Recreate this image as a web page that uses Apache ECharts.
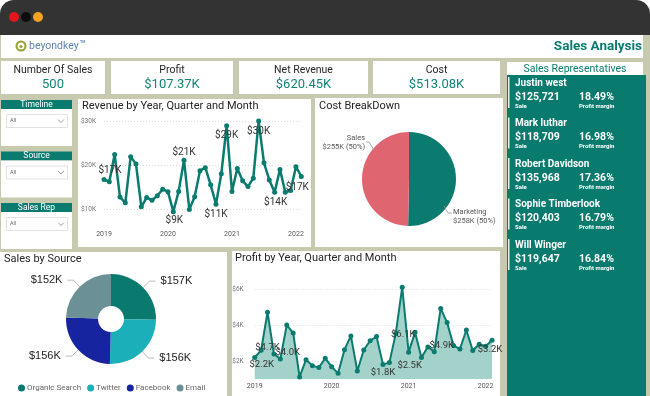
<!DOCTYPE html>
<html>
<head>
<meta charset="utf-8">
<script src="https://cdn.jsdelivr.net/npm/echarts@6/dist/echarts.min.js"></script>
<style>
  html, body { margin: 0; padding: 0; background: #fff; }
  #main { width: 650px; height: 396px; }
</style>
</head>
<body>
<div id="main"></div>
<script>
// ---- data ----
const months = ['2019-01','2019-02','2019-03','2019-04','2019-05','2019-06','2019-07','2019-08','2019-09','2019-10','2019-11','2019-12',
  '2020-01','2020-02','2020-03','2020-04','2020-05','2020-06','2020-07','2020-08','2020-09','2020-10','2020-11','2020-12',
  '2021-01','2021-02','2021-03','2021-04','2021-05','2021-06','2021-07','2021-08','2021-09','2021-10','2021-11','2021-12',
  '2022-01','2022-02'];
// revenue in $K
const revenue = [16.7,16.2,22.4,12.7,11.4,21.9,20.2,10.5,12.6,12.0,13.0,14.5,
  13.9,9.4,14.0,21.1,9.9,12.8,18.7,19.4,15.5,11.1,18.0,28.9,
  14.0,19.2,16.4,15.1,17.0,30.0,20.5,16.6,13.8,19.0,13.8,14.2,
  19.6,17.4];
// profit in $K
const profit = [2.19,2.6,4.72,2.39,2.11,4.01,3.56,1.11,2.07,1.74,1.63,2.15,
  1.68,1.31,2.63,3.40,1.44,2.61,3.13,3.36,1.81,1.91,3.54,6.12,
  2.48,3.6,2.2,2.78,2.52,4.93,4.14,2.86,2.67,3.73,2.58,2.93,
  2.82,3.16];
const revenueTicks = [10, 20, 30];
const profitTicks = [2, 4, 6];
// which points carry a data label, with label offset [dx, dy]
const revenueLabels = [[0, 6, -9], [13, 1, 9], [15, 0, -8], [21, 0, 10], [23, 0, 10], [29, 0, 10], [32, 1, 10], [37, -4, 11]];
const profitLabels = [[0, 7, 7], [2, 0, 35], [5, 1, 28], [20, 0, 8], [23, 1, 47], [24, 1, 13], [29, 1, 37], [37, -2, 9]];

const costNames = ['Marketing', 'Sales'];
const costValues = [258, 255];

const sourceNames = ['Organic Search', 'Twitter', 'Facebook', 'Email'];
const sourceValues = [157, 156, 156, 152];

const kpiTitles = ['Number Of Sales', 'Profit', 'Net Revenue', 'Cost'];
const kpiValues = ['500', '$107.37K', '$620.45K', '$513.08K'];

const repNames = ['Justin west', 'Mark luthar', 'Robert Davidson', 'Sophie Timberlook', 'Will Winger'];
const repSales = ['$125,721', '$118,709', '$135,968', '$120,403', '$119,647'];
const repMargins = ['18.49%', '16.98%', '17.36%', '16.79%', '16.84%'];

const slicers = ['Timeline', 'Source', 'Sales Rep'];

// ---- look ----
const TEAL = '#0b7b6f';
const TEXT = '#252423';
const FONT = 'Roboto, "Noto Sans", sans-serif';

const chart = echarts.init(document.getElementById('main'), null, { renderer: 'canvas' });

function rect(x, y, w, h, fill, extra) {
  return Object.assign({ type: 'rect', shape: { x: x, y: y, width: w, height: h }, style: { fill: fill }, silent: true }, extra || {});
}
function text(x, y, str, size, color, align, weight, font) {
  return {
    type: 'text', x: x, y: y, silent: true,
    style: {
      text: str, fill: color, fontSize: size, fontWeight: weight || 'normal',
      fontFamily: font || FONT, align: align || 'left', verticalAlign: 'middle'
    }
  };
}
function line(points, color) {
  return { type: 'polyline', shape: { points: points }, style: { stroke: color, lineWidth: 0.8, fill: 'none' }, silent: true, z: 10 };
}

const g = [];
// page and browser frame
g.push(rect(0, 0, 650, 396, '#ffffff'));
g.push(rect(0, 30, 650, 366, '#c7caae'));
g.push({ type: 'rect', shape: { x: 0, y: 0, width: 650, height: 35, r: [14, 14, 0, 0] }, style: { fill: '#333333' }, silent: true });
g.push({ type: 'circle', shape: { cx: 14, cy: 17, r: 5 }, style: { fill: '#e3161c' }, silent: true });
g.push({ type: 'circle', shape: { cx: 26, cy: 17, r: 5 }, style: { fill: '#0d0d0d' }, silent: true });
g.push({ type: 'circle', shape: { cx: 38, cy: 17, r: 5 }, style: { fill: '#f4a21f' }, silent: true });

// header
g.push(rect(1, 35, 642, 23, '#ffffff'));
g.push({ type: 'circle', shape: { cx: 21, cy: 46, r: 4.5 }, style: { fill: 'none', stroke: '#93a12f', lineWidth: 2 }, silent: true });
g.push({ type: 'circle', shape: { cx: 21, cy: 46.5, r: 1.5 }, style: { fill: '#93a12f' }, silent: true });
g.push(text(29, 46, 'beyondkey', 10.5, '#5f84ad', 'left', 'normal'));
g.push(text(80, 42, 'TM', 3.5, '#5f84ad', 'left', 'bold'));
g.push(text(642, 47, 'Sales Analysis', 13.5, TEAL, 'right', 'bold'));

// KPI cards
const kpiBoxes = [[1, 104], [111, 122], [239, 129], [373, 127]];
kpiBoxes.forEach(function (b, i) {
  g.push(rect(b[0], 61, b[1], 33, '#ffffff'));
  g.push(text(b[0] + b[1] / 2, 70, kpiTitles[i], 10.5, TEXT, 'center'));
  g.push(text(b[0] + b[1] / 2, 85, kpiValues[i], 13, '#138578', 'center'));
});

// sales representatives
g.push(rect(507, 62, 136, 13, '#ffffff'));
g.push(text(575, 69, 'Sales Representatives', 10.5, TEAL, 'center'));
g.push(rect(507, 75, 139, 321, '#087a6e'));
repNames.forEach(function (n, i) {
  const y0 = 83 + i * 40.5;
  g.push(rect(508, y0 - 6, 1.5, 31, '#e8f2f0'));
  g.push(text(515, y0, n, 10, '#ffffff', 'left', 'bold'));
  g.push(text(515, y0 + 14, repSales[i], 10.5, '#ffffff', 'left', 'bold'));
  g.push(text(515, y0 + 23, 'Sale', 6, '#ffffff', 'left', 'bold'));
  g.push(text(579, y0 + 14, repMargins[i], 10.5, '#ffffff', 'left', 'bold'));
  g.push(text(579, y0 + 23, 'Profit margin', 6, '#ffffff', 'left', 'bold'));
});

// slicers
slicers.forEach(function (s, i) {
  const y0 = 100 + i * 51.5;
  g.push(rect(1, y0, 71, 9, TEAL));
  g.push(text(36.5, y0 + 4.5, s, 8.5, '#ffffff', 'center'));
  g.push(rect(1, y0 + 9, 71, 37, '#ffffff'));
  g.push({ type: 'rect', shape: { x: 6.5, y: y0 + 14.5, width: 61, height: 13 }, style: { fill: '#fff', stroke: '#e2e2e2', lineWidth: 1 }, silent: true });
  g.push(text(10, y0 + 21, 'All', 5.5, '#666', 'left'));
  g.push({ type: 'polyline', shape: { points: [[58, y0 + 19.5], [61, y0 + 22.5], [64, y0 + 19.5]] }, style: { stroke: '#888', lineWidth: 0.8, fill: 'none' }, silent: true });
});

// chart panels
g.push(rect(78, 99, 233, 148, '#ffffff'));
g.push(text(82, 106, 'Revenue by Year, Quarter and Month', 11, TEXT, 'left'));
g.push(rect(315, 98, 188, 149, '#ffffff'));
g.push(text(319, 106, 'Cost BreakDown', 11, TEXT, 'left'));
g.push(rect(0, 252, 227, 144, '#ffffff'));
g.push(text(4, 259, 'Sales by Source', 11, TEXT, 'left'));
g.push(rect(232, 251, 268, 145, '#ffffff'));
g.push(text(235, 258, 'Profit by Year, Quarter and Month', 11, TEXT, 'left'));
// leader lines of the cost pie labels
g.push(line([[366, 142], [369, 142], [374, 150]], '#999'));
g.push(line([[452, 213], [448, 213], [444, 206]], '#999'));

// symbolSize 5 -> symbol box is 5x5, its centre is at (2.5, 2.5)
function pointLabels(values, list, fmt, size) {
  return values.map(function (v, i) {
    const hit = list.find(function (l) { return l[0] === i; });
    if (!hit) return v;
    return {
      value: v,
      label: { show: true, position: [2.5 + hit[1], 2.5 + hit[2]], align: 'center', verticalAlign: 'middle',
        formatter: fmt(v), color: '#333', fontSize: size, fontFamily: FONT }
    };
  });
}

const xAxisBase = {
  type: 'category', data: months, boundaryGap: false,
  axisLine: { show: false }, axisTick: { show: false },
  axisLabel: {
    interval: function (i) { return i % 12 === 0; },
    formatter: function (v) { return v.slice(0, 4); },
    color: '#555', fontSize: 7, fontFamily: FONT, margin: 9
  }
};

chart.setOption({
  animation: false,
  graphic: { elements: g },
  grid: [
    { left: 104, top: 116.6, width: 197.3, height: 105.6 },
    { left: 254.7, top: 285.7, width: 237.3, height: 93.2 }
  ],
  xAxis: [
    Object.assign({ gridIndex: 0 }, xAxisBase),
    Object.assign({ gridIndex: 1 }, xAxisBase, { axisLabel: Object.assign({}, xAxisBase.axisLabel, { margin: 4 }) })
  ],
  yAxis: [
    { gridIndex: 0, type: 'value', min: 7, max: 31,
      axisLine: { show: false },
      axisTick: { show: false, customValues: revenueTicks },
      axisLabel: { customValues: revenueTicks, formatter: function (v) { return '$' + v + 'K'; }, color: '#777', fontSize: 6.5, fontFamily: FONT, margin: 8 },
      splitLine: { lineStyle: { color: '#dcdcdc', type: [1, 2] } } },
    { gridIndex: 1, type: 'value', min: 1, max: 6.2,
      axisLine: { show: false },
      axisTick: { show: false, customValues: profitTicks },
      axisLabel: { customValues: profitTicks, formatter: function (v) { return '$' + v + 'K'; }, color: '#777', fontSize: 6.5, fontFamily: FONT, margin: 11 },
      splitLine: { lineStyle: { color: '#dcdcdc', type: [1, 2] } } }
  ],
  legend: {
    left: 13, top: 379, itemWidth: 7, itemHeight: 7, itemGap: 6, icon: 'circle',
    data: sourceNames,
    textStyle: { color: '#666', fontSize: 8, fontFamily: FONT, padding: [0, 0, 0, -3] }
  },
  series: [
    {
      type: 'line', xAxisIndex: 0, yAxisIndex: 0,
      data: pointLabels(revenue, revenueLabels, function (v) { return '$' + Math.round(v) + 'K'; }, 10),
      symbol: 'circle', symbolSize: 5, showAllSymbol: true,
      lineStyle: { color: TEAL, width: 2.5 }, itemStyle: { color: TEAL },
      labelLayout: { hideOverlap: false },
      z: 5
    },
    {
      type: 'line', xAxisIndex: 1, yAxisIndex: 1,
      data: pointLabels(profit, profitLabels, function (v) { return '$' + v.toFixed(1) + 'K'; }, 9.5),
      symbol: 'circle', symbolSize: 5, showAllSymbol: true,
      lineStyle: { color: TEAL, width: 2 }, itemStyle: { color: TEAL },
      areaStyle: { color: '#a2d2ca', opacity: 1 },
      labelLayout: { hideOverlap: false },
      z: 5
    },
    {
      type: 'pie', center: [409, 179], radius: 47, startAngle: 90, clockwise: true,
      data: costNames.map(function (n, i) { return { name: n, value: costValues[i] }; }),
      color: [TEAL, '#df6670'],
      label: {
        formatter: function (p) { return p.name + '\n$' + p.value + 'K (' + Math.round(p.percent) + '%)'; },
        color: '#555', fontSize: 7.5, lineHeight: 9, fontFamily: FONT
      },
      labelLine: { show: false },
      labelLayout: function (p) {
        return p.dataIndex === 1
          ? { x: 365, y: 143, align: 'right', verticalAlign: 'middle' }
          : { x: 453, y: 217, align: 'left', verticalAlign: 'middle' };
      },
      emphasis: { disabled: true }, z: 3
    },
    {
      type: 'pie', center: [111, 319], radius: [13, 45], startAngle: 90, clockwise: true,
      data: sourceNames.map(function (n, i) { return { name: n, value: sourceValues[i] }; }),
      color: ['#0a7a6e', '#1bb0b9', '#1624a0', '#6b9196'],
      label: {
        formatter: function (p) { return '$' + p.value + 'K'; },
        color: '#222', fontSize: 11, fontFamily: 'Liberation Sans, Arial, sans-serif'
      },
      labelLine: { length: 9, length2: 6, lineStyle: { color: '#bbb', width: 1 } },
      emphasis: { disabled: true }, z: 3
    }
  ]
});
</script>
</body>
</html>
